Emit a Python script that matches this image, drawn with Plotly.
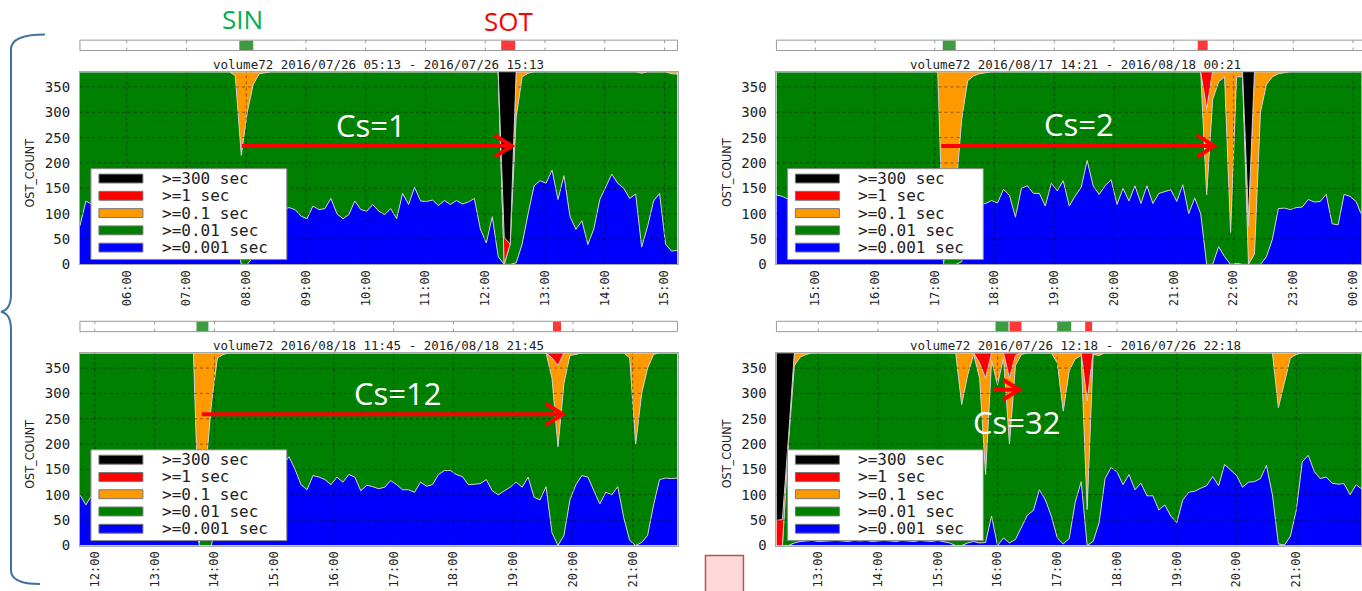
import pandas as pd
import plotly.graph_objects as go

W, H = 1362, 591

SERIES_NAMES = [">=0.001 sec", ">=0.01 sec", ">=0.1 sec", ">=1 sec", ">=300 sec"]
SERIES_COLORS = ["#0000ff", "#008000", "#ff9900", "#ff0000", "#000000"]
Y_TICKS = [0, 50, 100, 150, 200, 250, 300, 350]
Y_MAX = 380
STEP = "6min"
N_POINTS = 101

# ---------------- panel 1 ----------------
p1_start = "2016-07-26 05:13"
p1_title = "volume72 2016/07/26 05:13 - 2016/07/26 15:13"
p1_blue = [76, 125, 118, 112, 120, 105, 115, 108, 118, 110,
           122, 100, 115, 108, 120, 112, 104, 118, 110, 122,
           106, 115, 120, 102, 112, 95, 60, 0, 0, 15,
           95, 110, 100, 115, 108, 112, 108, 95, 90, 115,
           108, 110, 130, 100, 90, 98, 125, 108, 105, 118,
           105, 98, 110, 90, 140, 118, 152, 125, 124, 127,
           116, 126, 118, 126, 119, 123, 130, 70, 42, 94,
           15, 0, 0, 3, 40, 100, 155, 165, 160, 186,
           128, 175, 95, 69, 86, 39, 70, 128, 152, 178,
           160, 150, 130, 139, 34, 75, 125, 140, 40, 26, 28]
p1_green = [304, 255, 262, 268, 260, 275, 265, 272, 262, 270,
            258, 280, 265, 272, 260, 268, 276, 262, 270, 258,
            274, 265, 260, 278, 268, 285, 312, 215, 300, 340,
            281, 268, 280, 265, 272, 268, 272, 285, 290, 265,
            272, 270, 250, 280, 290, 282, 255, 272, 275, 262,
            275, 282, 270, 290, 240, 262, 228, 255, 256, 253,
            264, 254, 262, 254, 261, 257, 250, 310, 338, 286,
            365, 0, 40, 287, 330, 277, 225, 215, 220, 194,
            252, 205, 285, 311, 294, 341, 310, 252, 228, 202,
            220, 230, 250, 241, 343, 305, 255, 240, 340, 350, 347]
p1_orange = [0, 0, 0, 0, 0, 0, 0, 0, 0, 0,
             0, 0, 0, 0, 0, 0, 0, 0, 0, 0,
             0, 0, 0, 0, 0, 0, 8, 165, 80, 25,
             4, 2, 0, 0, 0, 0, 0, 0, 0, 0,
             0, 0, 0, 0, 0, 0, 0, 0, 0, 0,
             0, 0, 0, 0, 0, 0, 0, 0, 0, 0,
             0, 0, 0, 0, 0, 0, 0, 0, 0, 0,
             0, 0, 0, 90, 10, 3, 0, 0, 0, 0,
             0, 0, 0, 0, 0, 0, 0, 0, 0, 0,
             0, 0, 0, 0, 3, 0, 0, 0, 0, 4, 5]
p1_red = [0] * 71 + [53] + [0] * 29
p1_black = [0] * 71 + [327, 340] + [0] * 28
p1_sin = [("2016-07-26 07:53", "2016-07-26 08:07")]
p1_sot = [("2016-07-26 12:16", "2016-07-26 12:30")]

# ---------------- panel 2 ----------------
p2_start = "2016-08-17 14:21"
p2_title = "volume72 2016/08/17 14:21 - 2016/08/18 00:21"
p2_blue = [137, 134, 128, 125, 118, 130, 122, 135, 115, 128,
           120, 132, 110, 125, 138, 118, 126, 112, 130, 124,
           140, 116, 128, 122, 135, 110, 125, 90, 0, 0,
           0, 5, 60, 110, 118, 120, 126, 121, 148, 136,
           93, 150, 155, 140, 140, 115, 160, 145, 165, 115,
           135, 152, 205, 155, 138, 155, 167, 118, 150, 125,
           155, 120, 155, 120, 140, 144, 147, 124, 157, 100,
           131, 100, 0, 0, 35, 15, 0, 2, 0, 0,
           0, 0, 15, 50, 110, 111, 108, 112, 113, 128,
           123, 124, 138, 80, 78, 138, 134, 124, 95, 100, 105]
p2_green = [243, 246, 252, 255, 262, 250, 258, 245, 265, 252,
            260, 248, 270, 255, 242, 262, 254, 268, 250, 256,
            240, 264, 252, 258, 245, 270, 255, 290, 5, 60,
            140, 281, 302, 262, 258, 258, 254, 259, 232, 244,
            287, 230, 225, 240, 240, 265, 220, 235, 215, 265,
            245, 228, 175, 225, 242, 225, 213, 262, 230, 255,
            225, 260, 225, 260, 240, 236, 233, 256, 223, 280,
            249, 280, 137, 325, 325, 355, 63, 368, 370, 0,
            20, 300, 340, 320, 266, 267, 272, 268, 267, 252,
            257, 256, 242, 300, 302, 242, 246, 256, 285, 280, 275]
p2_orange = [0, 0, 0, 0, 0, 0, 0, 0, 0, 0,
             0, 0, 0, 0, 0, 0, 0, 0, 0, 0,
             0, 0, 0, 0, 0, 0, 0, 0, 375, 320,
             240, 94, 18, 8, 4, 2, 0, 0, 0, 0,
             0, 0, 0, 0, 0, 0, 0, 0, 0, 0,
             0, 0, 0, 0, 0, 0, 0, 0, 0, 0,
             0, 0, 0, 0, 0, 0, 0, 0, 0, 0,
             0, 0, 170, 55, 20, 10, 317, 10, 10, 75,
             360, 80, 25, 10, 4, 2, 0, 0, 0, 0,
             0, 0, 0, 0, 0, 0, 0, 0, 0, 0, 0]
p2_red = [0] * 72 + [73, 0, 0, 0, 0, 0, 0, 15] + [0] * 21
p2_black = [0] * 79 + [290] + [0] * 21
p2_sin = [("2016-08-17 17:08", "2016-08-17 17:21")]
p2_sot = [("2016-08-17 21:24", "2016-08-17 21:34")]

# ---------------- panel 3 ----------------
p3_start = "2016-08-18 11:45"
p3_title = "volume72 2016/08/18 11:45 - 2016/08/18 21:45"
p3_blue = [100, 80, 100, 118, 125, 110, 130, 120, 135, 115,
           128, 140, 122, 118, 130, 112, 126, 120, 108, 60,
           0, 0, 0, 60, 110, 125, 140, 118, 132, 125,
           145, 120, 138, 150, 160, 175, 150, 120, 110, 138,
           135, 130, 120, 135, 125, 140, 135, 108, 119, 116,
           112, 115, 128, 120, 110, 110, 105, 125, 117, 120,
           140, 148, 148, 140, 136, 120, 121, 122, 130, 108,
           100, 108, 115, 125, 115, 135, 95, 90, 116, 25,
           0, 20, 90, 120, 138, 135, 108, 82, 105, 100,
           116, 55, 10, 0, 6, 20, 80, 130, 133, 132, 133]
p3_green = [280, 300, 280, 262, 255, 270, 250, 260, 245, 265,
            252, 240, 258, 262, 250, 268, 254, 260, 272, 320,
            5, 150, 280, 310, 267, 255, 240, 262, 248, 255,
            235, 260, 242, 230, 220, 205, 230, 260, 270, 242,
            245, 250, 260, 245, 255, 240, 245, 272, 261, 264,
            268, 265, 252, 260, 270, 270, 275, 255, 263, 260,
            240, 232, 232, 240, 244, 260, 259, 258, 250, 272,
            280, 272, 265, 255, 265, 245, 285, 290, 264, 305,
            195, 300, 285, 257, 242, 245, 272, 298, 275, 280,
            264, 325, 360, 200, 294, 330, 297, 250, 247, 248, 247]
p3_orange = [0, 0, 0, 0, 0, 0, 0, 0, 0, 0,
             0, 0, 0, 0, 0, 0, 0, 0, 0, 0,
             375, 230, 100, 10, 3, 0, 0, 0, 0, 0,
             0, 0, 0, 0, 0, 0, 0, 0, 0, 0,
             0, 0, 0, 0, 0, 0, 0, 0, 0, 0,
             0, 0, 0, 0, 0, 0, 0, 0, 0, 0,
             0, 0, 0, 0, 0, 0, 0, 0, 0, 0,
             0, 0, 0, 0, 0, 0, 0, 0, 0, 40,
             160, 60, 5, 3, 0, 0, 0, 0, 0, 0,
             0, 0, 10, 180, 80, 30, 3, 0, 0, 0, 0]
p3_red = [0] * 79 + [10, 25] + [0] * 20
p3_black = [0] * 101
p3_sin = [("2016-08-18 13:42", "2016-08-18 13:54")]
p3_sot = [("2016-08-18 19:40", "2016-08-18 19:48")]

# ---------------- panel 4 ----------------
p4_start = "2016-07-26 12:18"
p4_title = "volume72 2016/07/26 12:18 - 2016/07/26 22:18"
p4_blue = [0, 0, 0, 5, 8, 9, 10, 8, 9, 10,
           10, 9, 8, 10, 9, 10, 8, 9, 10, 9,
           8, 10, 9, 8, 10, 9, 8, 10, 8, 5,
           0, 0, 5, 8, 5, 6, 58, 0, 15, 5,
           12, 35, 60, 69, 110, 90, 58, 15, 3, 14,
           85, 126, 0, 8, 45, 132, 154, 145, 120, 140,
           110, 123, 98, 98, 70, 80, 58, 45, 90, 105,
           107, 113, 118, 136, 118, 160, 148, 138, 115, 125,
           126, 132, 158, 100, 3, 1, 18, 70, 165, 178,
           146, 132, 135, 123, 121, 122, 100, 120, 111, 105, 110]
p4_green = [0, 0, 200, 350, 364, 368, 370, 372, 371, 370,
            370, 371, 372, 370, 371, 370, 372, 371, 370, 371,
            372, 370, 371, 372, 370, 371, 372, 370, 372, 375,
            380, 278, 331, 369, 325, 134, 307, 317, 355, 195,
            343, 342, 320, 311, 270, 290, 322, 345, 262, 331,
            283, 249, 71, 369, 330, 248, 226, 235, 260, 240,
            270, 257, 282, 282, 310, 300, 322, 335, 290, 275,
            273, 267, 262, 244, 262, 220, 232, 242, 265, 255,
            254, 248, 222, 280, 269, 319, 352, 307, 215, 202,
            234, 248, 245, 257, 259, 258, 280, 260, 269, 275, 270]
p4_orange = [0, 0, 10, 25, 8, 3, 0, 0, 0, 0,
             0, 0, 0, 0, 0, 0, 0, 0, 0, 0,
             0, 0, 0, 0, 0, 0, 0, 0, 0, 0,
             0, 102, 44, 3, 30, 190, 15, 63, 10, 130,
             20, 3, 0, 0, 0, 0, 0, 20, 115, 35,
             12, 5, 214, 3, 5, 0, 0, 0, 0, 0,
             0, 0, 0, 0, 0, 0, 0, 0, 0, 0,
             0, 0, 0, 0, 0, 0, 0, 0, 0, 0,
             0, 0, 0, 0, 108, 60, 10, 3, 0, 0,
             0, 0, 0, 0, 0, 0, 0, 0, 0, 0, 0]
p4_red = ([50, 51] + [0] * 32 + [20, 50, 0, 0, 0, 50, 5] + [0] * 11 + [95] + [0] * 48)
p4_black = [330, 329, 170] + [0] * 98
p4_sin = [("2016-07-26 15:58", "2016-07-26 16:11"), ("2016-07-26 17:00", "2016-07-26 17:14")]
p4_sot = [("2016-07-26 16:12", "2016-07-26 16:24"), ("2016-07-26 17:28", "2016-07-26 17:35")]

# ---------------- annotations text ----------------
cs_labels = ["Cs=1", "Cs=2", "Cs=12", "Cs=32"]

panels = [
    dict(start=p1_start, title=p1_title, series=[p1_blue, p1_green, p1_orange, p1_red, p1_black],
         sin=p1_sin, sot=p1_sot, left=80, bottom=268),
    dict(start=p2_start, title=p2_title, series=[p2_blue, p2_green, p2_orange, p2_red, p2_black],
         sin=p2_sin, sot=p2_sot, left=777, bottom=268),
    dict(start=p3_start, title=p3_title, series=[p3_blue, p3_green, p3_orange, p3_red, p3_black],
         sin=p3_sin, sot=p3_sot, left=80, bottom=553),
    dict(start=p4_start, title=p4_title, series=[p4_blue, p4_green, p4_orange, p4_red, p4_black],
         sin=p4_sin, sot=p4_sot, left=777, bottom=553),
]


def X(p):
    return p / W


def Y(p):
    return 1 - p / H


PLOT_W = 598          # full width of a panel in px (10 hours)
PLOT_H = 195.3        # height for 0..380
MONO = "DejaVu Sans Mono"

fig = go.Figure()
shapes = []
annotations = []
layout_axes = {}

for i, p in enumerate(panels, start=1):
    xa = "x" if i == 1 else f"x{i}"
    ya = "y" if i == 1 else f"y{i}"
    xkey = "xaxis" if i == 1 else f"xaxis{i}"
    ykey = "yaxis" if i == 1 else f"yaxis{i}"
    L, B = p["left"], p["bottom"]
    T = B - PLOT_H
    vis_w = min(PLOT_W, W - L)
    start = pd.Timestamp(p["start"])
    end = start + pd.Timedelta(hours=10 * vis_w / PLOT_W)
    times = pd.date_range(start, periods=N_POINTS, freq=STEP)

    for j in range(5):
        fig.add_trace(go.Scatter(
            x=times, y=p["series"][j], mode="lines", stackgroup=f"g{i}",
            line=dict(color="#cdcdcd", width=1), fillcolor=SERIES_COLORS[j],
            name=SERIES_NAMES[j], showlegend=False, hoverinfo="skip",
            xaxis=xa, yaxis=ya))

    layout_axes[xkey] = dict(
        domain=[X(L), min(1.0, X(L + PLOT_W))], range=[start, end], type="date",
        anchor=ya, tickformat="%H:%M", dtick=3600000, tick0="2016-01-01 00:00",
        tickangle=-90, tickfont=dict(family=MONO, size=12, color="#222"),
        showgrid=False, zeroline=False, showline=True, mirror=True,
        linecolor="#a8a8a8", linewidth=1, ticks="", fixedrange=True)
    layout_axes[ykey] = dict(
        domain=[Y(B), Y(T)], range=[0, Y_MAX], anchor=xa, tickvals=Y_TICKS,
        tickfont=dict(family=MONO, size=14, color="#222"),
        showgrid=False, zeroline=False, showline=True, mirror=True,
        linecolor="#a8a8a8", linewidth=1, ticks="", ticklabelstandoff=6,
        fixedrange=True)

    hours = pd.date_range(start.ceil("h"), end, freq="h")
    # dotted grid drawn over the areas
    for h in hours:
        shapes.append(dict(type="line", xref=xa, yref=ya, x0=h, x1=h, y0=0, y1=Y_MAX,
                           line=dict(color="rgba(0,0,0,0.45)", width=1, dash="dot"),
                           layer="above"))
    for v in Y_TICKS[1:]:
        shapes.append(dict(type="line", xref=xa, yref=ya, x0=start, x1=end, y0=v, y1=v,
                           line=dict(color="rgba(0,0,0,0.45)", width=1, dash="dot"),
                           layer="above"))

    # timeline bar
    bt, bb = T - 32, T - 21.5
    shapes.append(dict(type="rect", xref=f"{xa} domain", yref="paper",
                       x0=0, x1=1.0 if vis_w == PLOT_W else 1.03,
                       y0=Y(bb), y1=Y(bt), fillcolor="white",
                       line=dict(color="#9a9a9a", width=1), layer="above"))
    for h in hours:
        shapes.append(dict(type="line", xref=xa, yref="paper", x0=h, x1=h,
                           y0=Y(bt), y1=Y(bt + 3), line=dict(color="#9a9a9a", width=1)))
        shapes.append(dict(type="line", xref=xa, yref="paper", x0=h, x1=h,
                           y0=Y(bb), y1=Y(bb - 3), line=dict(color="#9a9a9a", width=1)))
    for (a, b) in p["sin"]:
        shapes.append(dict(type="rect", xref=xa, yref="paper", x0=a, x1=b,
                           y0=Y(bb - 0.5), y1=Y(bt + 0.5), fillcolor="#3d9b40",
                           line=dict(width=0)))
    for (a, b) in p["sot"]:
        shapes.append(dict(type="rect", xref=xa, yref="paper", x0=a, x1=b,
                           y0=Y(bb - 0.5), y1=Y(bt + 0.5), fillcolor="#ff3838",
                           line=dict(width=0)))

    # panel title
    annotations.append(dict(text=p["title"], xref="paper", yref="paper",
                            x=X(L + PLOT_W / 2), y=Y(T - 7.5), showarrow=False,
                            font=dict(family=MONO, size=12.5, color="#222"),
                            xanchor="center", yanchor="middle"))
    # y axis title
    annotations.append(dict(text="OST_COUNT", xref="paper", yref="paper",
                            x=X(L - 50), y=Y(B - 93), showarrow=False, textangle=-90,
                            font=dict(family="Liberation Sans Narrow, DejaVu Sans Condensed",
                                      size=12.5, color="#222"),
                            xanchor="center", yanchor="middle"))

    # legend box (drawn manually)
    shapes.append(dict(type="rect", xref="paper", yref="paper",
                       x0=X(L + 11), x1=X(L + 207), y0=Y(B - 5), y1=Y(B - 97),
                       fillcolor="white", line=dict(color="#8a8a8a", width=1), layer="above"))
    for r, j in enumerate([4, 3, 2, 1, 0]):
        cy = B - 97 + 10 + 17.5 * r
        shapes.append(dict(type="rect", xref="paper", yref="paper",
                           x0=X(L + 19), x1=X(L + 63), y0=Y(cy + 4.5), y1=Y(cy - 4.5),
                           fillcolor=SERIES_COLORS[j], line=dict(color="#777", width=1),
                           layer="above"))
        annotations.append(dict(text=SERIES_NAMES[j], xref="paper", yref="paper",
                                x=X(L + 80), y=Y(cy), showarrow=False,
                                font=dict(family=MONO, size=16, color="#222"),
                                xanchor="left", yanchor="middle"))

# ---------------- red arrows ----------------
arrows = [((242, 148), (512, 148)), ((942, 148), (1215, 148)),
          ((202, 420), (563, 420)), ((994, 395), (1020, 395))]
for (x0, y0), (x1, y1) in arrows:
    shapes.append(dict(type="line", xref="paper", yref="paper",
                       x0=X(x0), y0=Y(y0), x1=X(x1 - 2), y1=Y(y1),
                       line=dict(color="#ff0000", width=4), layer="above"))
    back = 17 if x1 - x0 > 60 else 16
    spread = 11 if x1 - x0 > 60 else 10
    path = (f"M {X(x1 - back)},{Y(y1 - spread)} L {X(x1)},{Y(y1)} "
            f"L {X(x1 - back)},{Y(y1 + spread)}")
    shapes.append(dict(type="path", xref="paper", yref="paper", path=path,
                       line=dict(color="#ff0000", width=4), layer="above"))

cs_pos = [(371, 127), (1080, 126), (398, 398), (1017, 428)]
for txt, (cx, cy) in zip(cs_labels, cs_pos):
    annotations.append(dict(text=txt, xref="paper", yref="paper", x=X(cx), y=Y(cy),
                            showarrow=False, xanchor="center", yanchor="middle",
                            font=dict(family="Open Sans", size=31, color="white")))

# SIN / SOT labels
annotations.append(dict(text="SIN", xref="paper", yref="paper", x=X(243), y=Y(19),
                        showarrow=False, xanchor="center", yanchor="middle",
                        font=dict(family="Open Sans", size=26, color="#00b050")))
annotations.append(dict(text="SOT", xref="paper", yref="paper", x=X(509), y=Y(21),
                        showarrow=False, xanchor="center", yanchor="middle",
                        font=dict(family="Open Sans", size=26, color="#ff0000")))

# left curly bracket
pts = ("M {a},{b} Q {c},{d} {e},{f} L {g},{h} Q {i},{j} {k},{l} "
       "Q {m},{n} {o},{p} L {q},{r} Q {s},{t} {u},{v}")
bracket = pts.format(a=X(45), b=Y(35), c=X(11), d=Y(35), e=X(11), f=Y(50),
                     g=X(11), h=Y(298), i=X(11), j=Y(314), k=X(1), l=Y(316),
                     m=X(11), n=Y(318), o=X(11), p=Y(334),
                     q=X(11), r=Y(578), s=X(11), t=Y(592), u=X(40), v=Y(592))
shapes.append(dict(type="path", xref="paper", yref="paper", path=bracket,
                   line=dict(color="#41719c", width=2)))

# small pink box at the bottom
shapes.append(dict(type="rect", xref="paper", yref="paper",
                   x0=X(706), x1=X(744), y0=Y(600), y1=Y(563),
                   fillcolor="#fdd9d9", line=dict(color="#c0504d", width=1.5)))

fig.update_layout(
    width=W, height=H, margin=dict(l=0, r=0, t=0, b=0),
    paper_bgcolor="white", plot_bgcolor="white",
    showlegend=False, shapes=shapes, annotations=annotations,
    **layout_axes)

fig.write_html("out.html")
